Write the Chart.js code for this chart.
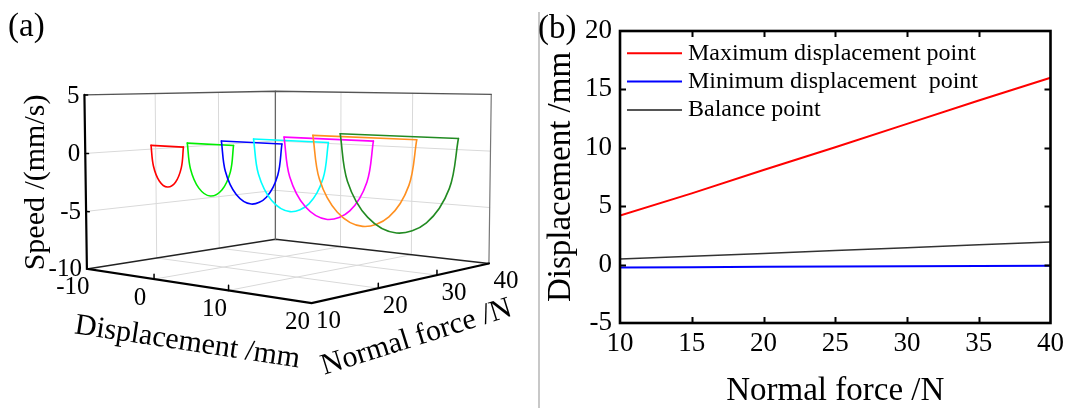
<!DOCTYPE html>
<html>
<head>
<meta charset="utf-8">
<script src="https://cdn.jsdelivr.net/npm/chart.js@4.4.0/dist/chart.umd.min.js"></script>
<style>
  body { margin: 0; background: #fff; width: 1069px; height: 408px; overflow: hidden; position: relative; }
  canvas { position: absolute; top: 0; }
  #chartA { left: 0; }
  #chartB { left: 530px; }
  #divider { position: absolute; left: 538px; top: 12px; width: 2px; height: 396px; background: #c8c8c8; }
</style>
</head>
<body>
<canvas id="chartA" width="540" height="408"></canvas>
<div id="divider"></div>
<canvas id="chartB" width="539" height="408"></canvas>
<script>
// ---- panel (a): phase loops, one per normal force ----
const loopForces = [10, 15, 20, 25, 30, 35, 40];
const loopColors = ['#ff0000', '#00ee00', '#0000ff', '#00ffff', '#ff00ff', '#ff9020', '#228b22'];
// slip arc of each loop, from max displacement down and back to min displacement
const loopDisp = [
  [4.2, 3.90, 3.09, 1.98, 0.86, 0.05, -0.25],
  [6.1, 5.68, 4.52, 2.94, 1.36, 0.20, -0.22],
  [8.05, 7.50, 5.99, 3.93, 1.86, 0.35, -0.2],
  [10.0, 9.32, 7.46, 4.91, 2.37, 0.50, -0.18],
  [12.0, 11.19, 8.96, 5.93, 2.89, 0.66, -0.15],
  [14.0, 13.05, 10.47, 6.94, 3.41, 0.83, -0.12],
  [16.0, 14.92, 11.98, 7.95, 3.93, 0.98, -0.1]
];
const loopSpeed = [
  [1, -0.65, -1.86, -2.3, -1.86, -0.65, 1],
  [1, -1.15, -2.72, -3.3, -2.72, -1.15, 1],
  [1, -1.63, -3.55, -4.25, -3.55, -1.63, 1],
  [1, -2.1, -4.37, -5.2, -4.37, -2.1, 1],
  [1, -2.6, -5.24, -6.2, -5.24, -2.6, 1],
  [1, -3.08, -6.06, -7.15, -6.06, -3.08, 1],
  [1, -3.55, -6.88, -8.1, -6.88, -3.55, 1]
];
const dispTicks = [-10, 0, 10, 20];
const forceTicks = [10, 20, 30, 40];
const speedTicks = [-10, -5, 0, 5];

// ---- panel (b): characteristic points vs normal force ----
const forceB = [10, 15, 20, 25, 30, 35, 40];
const maxDisp = [4.2, 6.1, 8.1, 10.05, 12.05, 14.05, 16.0];
const minDisp = [-0.25, -0.22, -0.19, -0.16, -0.14, -0.12, -0.1];
const balance = [0.47, 0.72, 0.96, 1.2, 1.45, 1.69, 1.93];
const xTicksB = [10, 15, 20, 25, 30, 35, 40];
const yTicksB = [-5, 0, 5, 10, 15, 20];

const SERIF = '"Liberation Serif", "Times New Roman", serif';

// simple perspective camera for the 3d box
const D0 = dispTicks[0], D1 = dispTicks[dispTicks.length - 1];
const F0 = forceTicks[0], F1 = forceTicks[forceTicks.length - 1];
const S0 = speedTicks[0], S1 = speedTicks[speedTicks.length - 1];
const AZ = 40 * Math.PI / 180, EL = 5 * Math.PI / 180, DIST = 4.4, ZH = 0.6;

function project(d, f, s) {
  const X = (d - D0) / (D1 - D0) - 0.5;
  const Y = (f - F0) / (F1 - F0) - 0.5;
  const Z = ((s - S0) / (S1 - S0) - 0.5) * ZH;
  const xr = X * Math.cos(AZ) + Y * Math.sin(AZ);
  const t0 = X * Math.sin(AZ) - Y * Math.cos(AZ);
  const up = -Math.sin(EL) * t0 + Math.cos(EL) * Z;
  const depth = Math.cos(EL) * t0 + Math.sin(EL) * Z;
  const k = DIST / (DIST - depth);
  return {x: xr * k, y: up * k};
}

function line3d(pts, color, width, order, tension) {
  return {
    data: pts.map(p => project(p[0], p[1], p[2])),
    showLine: true, borderColor: color, borderWidth: width,
    pointRadius: 0, order: order, tension: tension || 0,
    borderCapStyle: 'round', fill: false
  };
}

const datasetsA = [];
const GRID = '#d9d9d9';
// back walls and floor grid
[20, 30].forEach(f => datasetsA.push(line3d([[D0, f, S0], [D0, f, S1]], GRID, 1, 100)));
[0, 10].forEach(d => datasetsA.push(line3d([[d, F1, S0], [d, F1, S1]], GRID, 1, 100)));
[-5, 0].forEach(s => {
  datasetsA.push(line3d([[D0, F0, s], [D0, F1, s], [D1, F1, s]], GRID, 1, 100));
});
[0, 10].forEach(d => datasetsA.push(line3d([[d, F0, S0], [d, F1, S0]], GRID, 1, 100)));
[20, 30].forEach(f => datasetsA.push(line3d([[D0, f, S0], [D1, f, S0]], GRID, 1, 100)));
// box edges at the back
datasetsA.push(line3d([[D0, F0, S1], [D0, F1, S1], [D1, F1, S1]], '#555', 1.3, 90));
datasetsA.push(line3d([[D0, F1, S0], [D0, F1, S1]], '#666', 1.3, 90));
datasetsA.push(line3d([[D1, F1, S0], [D1, F1, S1]], '#777', 1.2, 90));
datasetsA.push(line3d([[D0, F0, S0], [D0, F1, S0], [D1, F1, S0]], '#222', 1.5, 90));
// front axes
datasetsA.push(line3d([[D0, F0, S1], [D0, F0, S0], [D1, F0, S0], [D1, F1, S0]], '#000', 2.2, 80));
[0, 10].forEach(d => datasetsA.push(line3d([[d, F0, S0], [d, F0, S0 + 0.4]], '#000', 1.5, 80)));
[20, 30].forEach(f => datasetsA.push(line3d([[D1, f, S0], [D1, f, S0 + 0.4]], '#000', 1.5, 80)));
[-5, 0, 5].forEach(s => datasetsA.push(line3d([[D0, F0, s], [D0 + 0.5, F0, s]], '#000', 1.5, 80)));
// loops
loopForces.forEach((f, i) => {
  const ds = loopDisp[i], sp = loopSpeed[i], n = ds.length;
  datasetsA.push(line3d(ds.map((d, j) => [d, f, sp[j]]), loopColors[i], 1.6, 20 - i, 0.35));
  datasetsA.push(line3d([[ds[n - 1], f, sp[n - 1]], [ds[0], f, sp[0]]], loopColors[i], 1.6, 20 - i));
});

const VIEW = {cx: 290.7, cy: 180.9, k: 287, w: 540, h: 408};

const labels3d = {
  id: 'labels3d',
  afterDraw(chart) {
    const {ctx} = chart;
    const sx = chart.scales.x, sy = chart.scales.y;
    const px = (d, f, s) => {
      const p = project(d, f, s);
      return [sx.getPixelForValue(p.x), sy.getPixelForValue(p.y)];
    };
    const rotText = (txt, x, y, ang) => {
      ctx.save();
      ctx.translate(x, y);
      ctx.rotate(ang);
      ctx.textAlign = 'center';
      ctx.textBaseline = 'middle';
      ctx.fillText(txt, 0, 0);
      ctx.restore();
    };
    ctx.save();
    ctx.fillStyle = '#000';
    ctx.textBaseline = 'middle';
    ctx.font = '25px ' + SERIF;
    ctx.textAlign = 'right';
    speedTicks.forEach(s => { const [x, y] = px(D0, F0, s); ctx.fillText(String(s), x - 5, y + 1); });
    ctx.textAlign = 'center';
    dispTicks.forEach(d => { const [x, y] = px(d, F0, S0); ctx.fillText(String(d), x - 14, y + 19); });
    forceTicks.forEach(f => { const [x, y] = px(D1, f, S0); ctx.fillText(String(f), x + 17, y + 18); });

    ctx.font = '30px ' + SERIF;
    const [vx, vy] = px(D0, F0, (S0 + S1) / 2);
    rotText('Speed /(mm/s)', vx - 49.5, vy, -Math.PI / 2);
    const [lx, ly] = px(D0, F0, S0), [fx, fy] = px(D1, F0, S0), [rx, ry] = px(D1, F1, S0);
    const [mx, my] = px((D0 + D1) / 2, F0, S0);
    rotText('Displacement /mm', mx - 3, my + 58, Math.atan2(fy - ly, fx - lx));
    const [nx, ny] = px(D1, (F0 + F1) / 2, S0);
    rotText('Normal force /N', nx + 8, ny + 56, Math.atan2(ry - fy, rx - fx) - 0.085);

    ctx.font = '33px ' + SERIF;
    ctx.textAlign = 'left';
    ctx.textBaseline = 'alphabetic';
    ctx.fillText('(a)', 8, 36);
    ctx.restore();
  }
};

new Chart(document.getElementById('chartA'), {
  type: 'scatter',
  data: {datasets: datasetsA},
  options: {
    responsive: false, animation: false, devicePixelRatio: 1,
    layout: {padding: 0},
    plugins: {legend: {display: false}, tooltip: {enabled: false}},
    scales: {
      x: {type: 'linear', display: false, min: -VIEW.cx / VIEW.k, max: (VIEW.w - VIEW.cx) / VIEW.k},
      y: {type: 'linear', display: false, min: (VIEW.cy - VIEW.h) / VIEW.k, max: VIEW.cy / VIEW.k}
    }
  },
  plugins: [labels3d]
});

// ---- panel (b) ----
const frameB = {
  id: 'frameB',
  afterDraw(chart) {
    const {ctx, chartArea: a} = chart;
    const sx = chart.scales.x, sy = chart.scales.y;
    ctx.save();
    ctx.strokeStyle = '#000';
    ctx.lineWidth = 2;
    ctx.beginPath();
    xTicksB.slice(1, -1).forEach(v => {
      const p = Math.round(sx.getPixelForValue(v)) + 0.5;
      ctx.moveTo(p, a.bottom); ctx.lineTo(p, a.bottom - 6);
      ctx.moveTo(p, a.top); ctx.lineTo(p, a.top + 6);
    });
    yTicksB.slice(1, -1).forEach(v => {
      const p = Math.round(sy.getPixelForValue(v)) + 0.5;
      ctx.moveTo(a.left, p); ctx.lineTo(a.left + 6, p);
      ctx.moveTo(a.right, p); ctx.lineTo(a.right - 6, p);
    });
    ctx.stroke();
    ctx.lineWidth = 2.6;
    ctx.strokeRect(a.left, a.top, a.right - a.left, a.bottom - a.top);

    // legend inside the plot
    ctx.font = '24px ' + SERIF;
    ctx.textBaseline = 'middle';
    ctx.textAlign = 'left';
    chart.data.datasets.forEach((ds, i) => {
      const y = a.top + 22.3 + i * 28.3;
      ctx.strokeStyle = ds.legendColor || ds.borderColor;
      ctx.lineWidth = 2;
      ctx.beginPath();
      ctx.moveTo(a.left + 7, y); ctx.lineTo(a.left + 62, y);
      ctx.stroke();
      ctx.fillStyle = '#000';
      ctx.fillText(ds.label, a.left + 68, y);
    });

    ctx.font = '33px ' + SERIF;
    ctx.textBaseline = 'alphabetic';
    ctx.fillText('(b)', 8, 38);
    ctx.restore();
  }
};

const toXY = ys => forceB.map((f, i) => ({x: f, y: ys[i]}));

new Chart(document.getElementById('chartB'), {
  type: 'line',
  data: {
    datasets: [
      {label: 'Maximum displacement point', data: toXY(maxDisp), borderColor: '#ff0000', borderWidth: 2, pointRadius: 0},
      {label: 'Minimum displacement  point', data: toXY(minDisp), borderColor: '#0000ff', borderWidth: 2, pointRadius: 0},
      {label: 'Balance point', data: toXY(balance), borderColor: '#333333', legendColor: '#555555', borderWidth: 1.5, pointRadius: 0}
    ]
  },
  options: {
    responsive: false, animation: false, devicePixelRatio: 1,
    layout: {padding: {top: 31, right: 18, left: 0, bottom: 0}},
    plugins: {legend: {display: false}, tooltip: {enabled: false}},
    scales: {
      x: {
        type: 'linear', min: 10, max: 40,
        afterBuildTicks: s => { s.ticks = xTicksB.map(v => ({value: v})); },
        afterFit: s => { s.height = 85; },
        grid: {display: false, drawTicks: false},
        border: {display: false},
        ticks: {color: '#000', font: {family: SERIF, size: 27}, padding: 5, autoSkip: false, maxRotation: 0},
        title: {display: true, text: 'Normal force /N', color: '#000', font: {family: SERIF, size: 33, lineHeight: 1}, padding: {top: 0, bottom: 0}}
      },
      y: {
        type: 'linear', min: -5, max: 20,
        afterBuildTicks: s => { s.ticks = yTicksB.map(v => ({value: v})); },
        afterFit: s => { s.width = 90; },
        grid: {display: false, drawTicks: false},
        border: {display: false},
        ticks: {color: '#000', font: {family: SERIF, size: 27}, padding: 8, autoSkip: false},
        title: {display: true, text: 'Displacement /mm', color: '#000', font: {family: SERIF, size: 33, lineHeight: 1}, padding: {top: 15, bottom: 0}}
      }
    }
  },
  plugins: [frameB]
});
</script>
</body>
</html>
